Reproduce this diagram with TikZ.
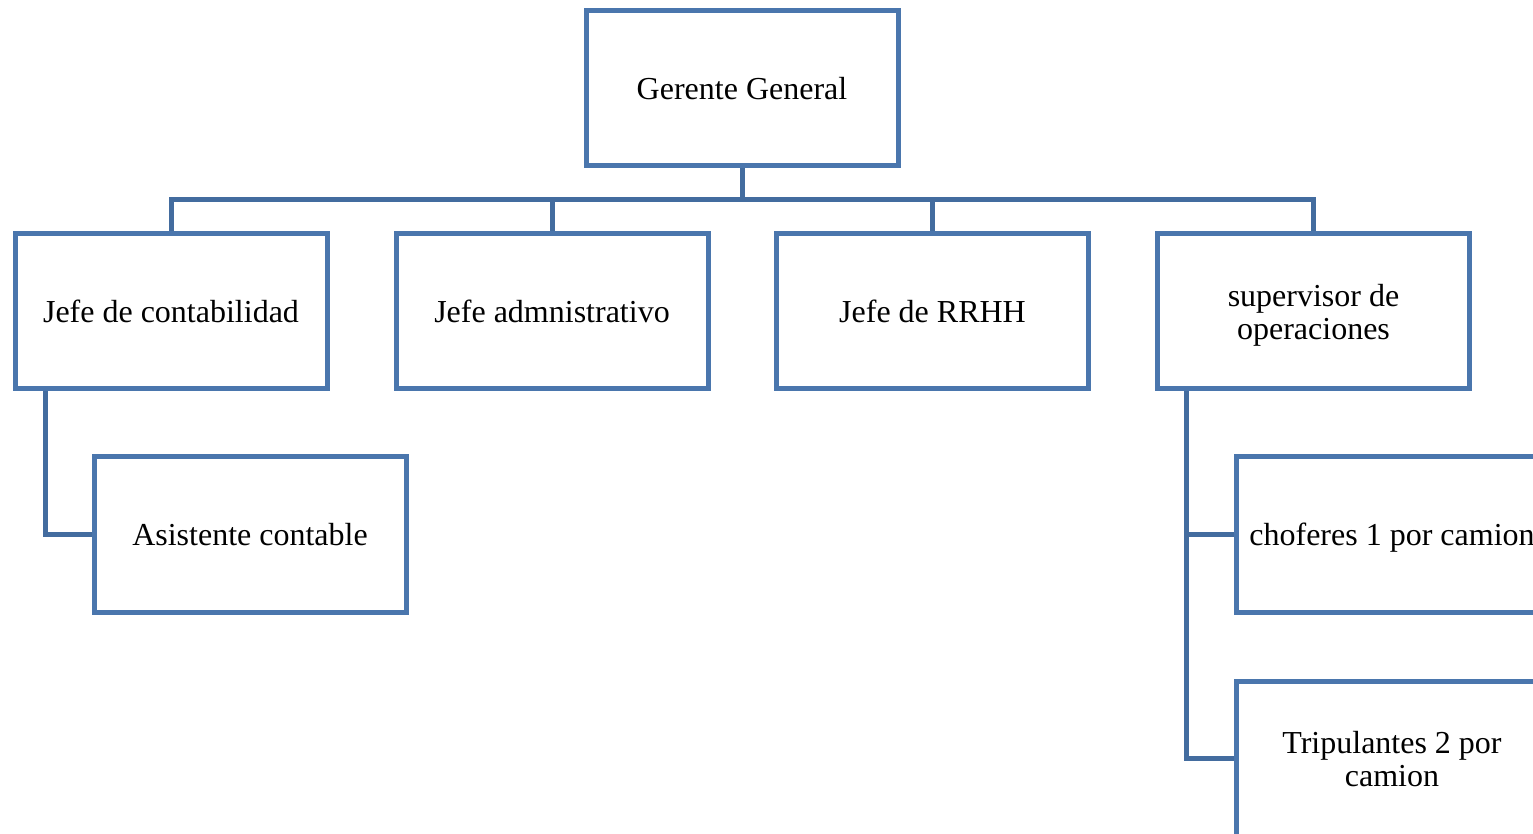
\documentclass[tikz,border=0pt]{standalone}
\usepackage{fontspec}
\setmainfont{Liberation Serif}
\usetikzlibrary{backgrounds}
\definecolor{boxblue}{HTML}{4A76AD}
\definecolor{linkblue}{HTML}{436C9F}
\begin{document}
\begin{tikzpicture}[x=0.5pt,y=-0.5pt,
  orgbox/.style={draw=boxblue, line width=2.5pt, fill=white, rectangle,
    minimum width=156pt, minimum height=77.5pt, inner sep=0pt, outer sep=0pt,
    text depth=0pt, align=center, font=\fontsize{16}{16.5}\selectfont},
  link/.style={draw=linkblue, line width=2.5pt}]
  \clip (0,0) rectangle (1533,834);

  % top level
  \node[orgbox] (gg) at (742,88) {Gerente General};

  % second level
  \node[orgbox] (c1) at (171,311.5) {Jefe de contabilidad};
  \node[orgbox] (c2) at (552,311.5) {Jefe admnistrativo};
  \node[orgbox] (c3) at (932.5,311.5) {Jefe de RRHH};
  \node[orgbox] (c4) at (1313.5,311.5) {supervisor de\\operaciones};

  % third level
  \node[orgbox] (asis) at (250,534.5) {Asistente contable};
  \node[orgbox] (chof) at (1392,534.5) {choferes 1 por camion};
  \node[orgbox] (trip) at (1392,758.5) {Tripulantes 2 por\\camion};

  \begin{scope}[on background layer]
    % bus below the general manager
    \coordinate (bus) at (742,200);
    \foreach \k in {c1,c2,c3,c4}
      \draw[link] (gg.south) -- (bus) -| (\k.north);

    % side branches
    \draw[link] ([xshift=15pt]c1.south west) |- (asis.west);
    \draw[link] ([xshift=14.5pt]c4.south west) |- (chof.west);
    \draw[link] ([xshift=14.5pt]c4.south west) |- (trip.west);
  \end{scope}
\end{tikzpicture}
\end{document}
